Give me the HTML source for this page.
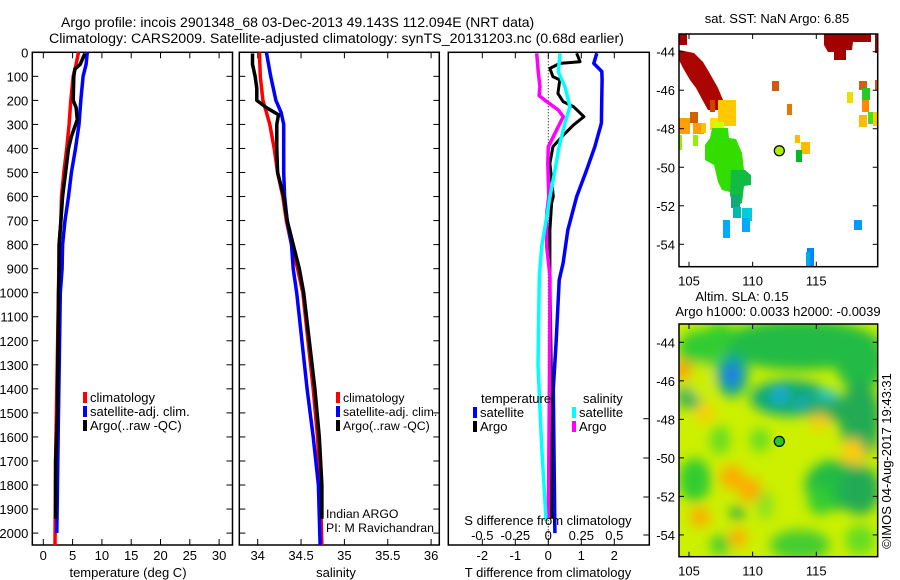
<!DOCTYPE html>
<html><head><meta charset="utf-8">
<style>
html,body{margin:0;padding:0;background:#fff;}
svg{display:block;font-family:"Liberation Sans",sans-serif;}
text{fill:#000;font-size:13px;}
</style></head>
<body>
<svg id="fig" width="900" height="580" viewBox="0 0 900 580" xmlns="http://www.w3.org/2000/svg">
<defs>
<clipPath id="clipSla"><rect x="679" y="324" width="199" height="233"/></clipPath>
<filter id="blur" x="-20%" y="-20%" width="140%" height="140%"><feGaussianBlur stdDeviation="6"/></filter>
</defs>
<text x="61" y="27" style="font-size:14px">Argo profile: incois 2901348_68 03-Dec-2013 49.143S 112.094E (NRT data)</text>
<text x="49" y="43" style="font-size:14.2px">Climatology: CARS2009. Satellite-adjusted climatology: synTS_20131203.nc (0.68d earlier)</text>
<g id="g1"></g>
<g id="g2"></g>
<g id="g3"></g>
<g id="m1"></g>
<g id="m2"></g>
<text transform="translate(891,461) rotate(-90)" text-anchor="middle">©IMOS 04-Aug-2017 19:43:31</text>
</svg>
<script>
// ---- data ----
const tempDepth = [0,50,100,200,300,400,500,600,700,800,1000,1400,1700,2050];
const tempClim  = [6.0,5.6,5.1,4.7,4.4,4.0,3.5,3.1,3.0,2.7,2.6,2.3,2.1,2.0];
const tempSatDepth = [0,50,100,200,300,400,500,600,700,800,900,1000,1500,2000];
const tempSat   = [7.5,7.3,6.8,6.4,6.1,5.5,4.8,4.3,3.7,3.3,3.2,2.9,2.6,2.3];
const argoDepth = [5,50,70,100,200,230,280,350,400,500,600,700,800,900,1000,1500,1700,1940];
const tempArgo  = [7.1,6.3,5.4,5.2,5.1,5.6,5.8,4.8,4.3,3.8,3.3,3.0,2.7,2.7,2.6,2.4,2.1,2.1];
const salDepth  = [0,100,200,250,300,400,500,600,700,800,900,1000,1400,1600,1800,2050];
const salClim   = [34.02,34.03,34.06,34.10,34.14,34.19,34.23,34.29,34.33,34.39,34.46,34.52,34.64,34.69,34.72,34.74];
const salSat    = [34.10,34.15,34.21,34.27,34.30,34.30,34.30,34.31,34.34,34.39,34.41,34.45,34.57,34.64,34.70,34.72];
const salArgoDepth = [5,50,100,150,200,230,260,300,400,500,600,700,800,900,1000,1400,1600,1800,1940];
const salArgo   = [33.94,33.94,33.97,33.99,33.99,34.10,34.24,34.22,34.22,34.23,34.30,34.34,34.41,34.48,34.53,34.66,34.71,34.74,34.74];
const dTSatDepth = [4,46,80,115,185,295,393,490,600,740,877,947,1200,1400,2000];
const dTSat     = [1.47,1.38,1.62,1.63,1.62,1.61,1.41,1.16,0.86,0.59,0.45,0.33,0.24,0.15,0.2];
const dTArgoDepth = [4,39,46,67,101,115,171,205,226,268,303,351,393,462,600,628,740,947,1400,1940];
const dTArgo    = [0.86,0.96,0.35,0.05,0.14,0.35,0.29,0.45,0.76,1.08,0.76,0.41,0.14,0.05,0.15,0.1,0.05,0.05,0.1,0.1];
const dSArgoDepth = [4,88,143,180,205,240,268,323,393,462,600,670,808,933,1400,1940];
const dSArgo    = [-0.088,-0.075,-0.063,-0.07,-0.012,0.076,0.114,0.063,0,-0.004,0.004,-0.012,-0.012,0.013,0.008,0.0];
const dSSatDepth = [4,81,143,226,295,393,490,600,684,808,933,1300,1640,1950];
const dSSat     = [0.089,0.076,0.126,0.164,0.126,0.081,0.051,0.013,-0.012,-0.05,-0.068,-0.078,-0.05,-0.017];
const depthTicks = [0,100,200,300,400,500,600,700,800,900,1000,1100,1200,1300,1400,1500,1600,1700,1800,1900,2000];
const tTicks = [0,5,10,15,20,25,30];
const sTicks = [34,34.5,35,35.5,36];
const sTickLabels = ["34","34.5","35","35.5","36"];
const dTTicks = [-2,-1,0,1,2];
const dSTicks = [-0.5,-0.25,0,0.25,0.5];
const dSTickLabels = ["-0.5","-0.25","0","0.25","0.5"];
const lonTicks = [105,110,115];
const latTicks = [-44,-46,-48,-50,-52,-54];
const argoLon = 112.094, argoLat = -49.143;

// ---- scales ----
const TOP=52.3, BOT=545;
const yD = d => TOP + d*0.2404;
const xT = t => 43.3 + t*5.86;
const xS = s => 257.7 + (s-34)*86.7;
const xDT = v => 548.3 + v*33;
const xDS = v => 548.3 + v*132;
const xLon = l => 689 + (l-105)*12.73;
const yLat1 = l => 51.7 + (-44-l)*19.26;
const yLat2 = l => 342.3 + (-44-l)*19.26;
const NS='http://www.w3.org/2000/svg';
function mk(p,tag,attrs,txt){const e=document.createElementNS(NS,tag);for(const k in attrs)e.setAttribute(k,attrs[k]);if(txt!==undefined)e.textContent=txt;p.appendChild(e);return e;}
function frame(g,x0,x1,y0,y1){
  const r=mk(g,'rect',{x:x0,y:y0,width:x1-x0,height:y1-y0,fill:'none',stroke:'#000','stroke-width':1.5});
  
  
}
function line(g,depths,vals,xf,color,name,w){
  const pts=depths.map((d,i)=>xf(vals[i]).toFixed(1)+','+yD(d).toFixed(1)).join(' ');
  const p=mk(g,'polyline',{points:pts,fill:'none',stroke:color,'stroke-width':w||3.5,'stroke-linejoin':'round'});
  
  
}
function depthTicksOn(g,x0,x1,labels){
  depthTicks.forEach(d=>{
    const y=yD(d);
    mk(g,'line',{x1:x0,x2:x0+6,y1:y,y2:y,stroke:'#000'});
    mk(g,'line',{x1:x1-6,x2:x1,y1:y,y2:y,stroke:'#000'});
    if(labels){const t=mk(g,'text',{x:x0-4,y:y+5,'text-anchor':'end'},String(d));
      
      }
  });
}
function xTicks(g,vals,labels,xf,y,ly){
  vals.forEach((v,i)=>{const x=xf(v);
    mk(g,'line',{x1:x,x2:x,y1:TOP,y2:TOP+6,stroke:'#000'});
    mk(g,'line',{x1:x,x2:x,y1:BOT-6,y2:BOT,stroke:'#000'});
    const t=mk(g,'text',{x:x,y:ly,'text-anchor':'middle'},labels[i]);
    
    
  });
}
function legend(g,x,y,color,label,fs){
  mk(g,'rect',{x:x,y:y-10,width:4,height:11,fill:color});
  const t=mk(g,'text',{x:x+7,y:y,style:'font-size:'+(fs||13)+'px'},label);
  
  
}
// panel 1
const g1=document.getElementById('g1');
frame(g1,32.3,232.5,TOP,BOT);
depthTicksOn(g1,32.3,232.5,true);
xTicks(g1,tTicks,tTicks.map(String),xT,0,560);
line(g1,tempDepth,tempClim,xT,'#ff0000','temp-climatology-line');
line(g1,tempSatDepth,tempSat,xT,'#0000ff','temp-satellite-line');
line(g1,argoDepth,tempArgo,xT,'#000','temp-argo-line');
legend(g1,83,402,'#ff0000','climatology');
legend(g1,83,416,'#0000ff','satellite-adj. clim.');
legend(g1,83,430,'#000','Argo(..raw -QC)');
mk(g1,'text',{x:128,y:577,'text-anchor':'middle'},'temperature (deg C)');
// panel 2
const g2=document.getElementById('g2');
frame(g2,239.3,439.3,TOP,BOT);
depthTicksOn(g2,239.3,439.3,false);
xTicks(g2,sTicks,sTickLabels,xS,0,560);
line(g2,salDepth,salClim,xS,'#ff0000','sal-climatology-line');
line(g2,salDepth,salSat,xS,'#0000ff','sal-satellite-line');
line(g2,salArgoDepth,salArgo,xS,'#000','sal-argo-line');
legend(g2,336,402,'#ff0000','climatology',12.3);
legend(g2,336,416,'#0000ff','satellite-adj. clim.',12.3);
legend(g2,336,430,'#000','Argo(..raw -QC)',12.3);
mk(g2,'text',{x:326,y:518,style:'font-size:12.3px'},'Indian ARGO');
mk(g2,'text',{x:326,y:532,style:'font-size:12.3px'},'PI: M Ravichandran');
mk(g2,'text',{x:336,y:577,'text-anchor':'middle'},'salinity');
// panel 3
const g3=document.getElementById('g3');
frame(g3,448.3,649.3,TOP,BOT);
mk(g3,'line',{x1:548.3,x2:548.3,y1:TOP,y2:BOT,stroke:'#000','stroke-dasharray':'1,2'});
[418.7,458,497,535].forEach(y=>mk(g3,'line',{x1:643.3,x2:649.3,y1:y,y2:y,stroke:'#000'}));
xTicks(g3,dTTicks,dTTicks.map(String),xDT,0,560);
line(g3,dTSatDepth,dTSat,xDT,'#0000ff','dtemp-satellite-line');
line(g3,dTArgoDepth,dTArgo,xDT,'#000','dtemp-argo-line',3);
line(g3,dSArgoDepth,dSArgo,xDS,'#ff00ff','dsal-argo-line');
line(g3,dSSatDepth,dSSat,xDS,'#00ffff','dsal-satellite-line');
dSTicks.forEach((v,i)=>{const t=mk(g3,'text',{x:xDS(v),y:540,'text-anchor':'middle'},dSTickLabels[i]);
  
  });
mk(g3,'text',{x:548,y:525,'text-anchor':'middle'},'S difference from climatology');
mk(g3,'text',{x:548,y:577,'text-anchor':'middle'},'T difference from climatology');
mk(g3,'text',{x:481,y:403},'temperature');
mk(g3,'text',{x:583,y:403},'salinity');
legend(g3,473,417,'#0000ff','satellite');
legend(g3,473,431,'#000','Argo');
legend(g3,572,417,'#00ffff','satellite');
legend(g3,572,431,'#ff00ff','Argo');
// maps
function mapAxes(g,y0,y1,yLat){
  frame(g,679,877.7,y0,y1);
  lonTicks.forEach(l=>{const x=xLon(l);
    mk(g,'line',{x1:x,x2:x,y1:y0,y2:y0+5,stroke:'#000'});
    mk(g,'line',{x1:x,x2:x,y1:y1-5,y2:y1,stroke:'#000'});
    const t=mk(g,'text',{x:x,y:y1+19,'text-anchor':'middle'},String(l));
    
    });
  latTicks.forEach(l=>{const y=yLat(l);
    mk(g,'line',{x1:679,x2:684,y1:y,y2:y,stroke:'#000'});
    mk(g,'line',{x1:872.7,x2:877.7,y1:y,y2:y,stroke:'#000'});
    const t=mk(g,'text',{x:675,y:y+5,'text-anchor':'end'},String(l));
    
    });
}
const m1=document.getElementById('m1');
mk(m1,'text',{x:777,y:23,'text-anchor':'middle'},'sat. SST: NaN Argo: 6.85');
const sst=[
 ['polygon','679,34 687,34 687,45 679,45','#a50000'],
 ['polygon','679,50 694,53 703,62 709,72 718,88 723,100 720,110 708,110 703,101 696,88 690,80 683,68 679,60','#aa0500'],
 ['polygon','824,34 871,34 871,42 853,42 852,50 846,50 846,60 834,60 834,52 828,52 824,45','#a50000'],
 ['rect','875,34,3,19','#a50000'],
 ['rect','772,81,7,10','#d05a10'],['rect','787,104,5,11','#e07a00'],
 ['rect','795,135,5,8','#ffbb00'],['rect','801,142,9,12','#ffbb00'],['rect','796,150,6,12','#00bb22'],
 ['rect','679,118,11,16','#ffa000'],['rect','690,112,8,11','#d06000'],['rect','693,123,11,11','#ffa000'],['rect','679,135,3,15','#99ee00'],['rect','693,135,5,11','#99ee00'],['rect','701,123,5,10','#ffc000'],
 ['rect','710,100,5,12','#cc4400'],['rect','718,100,18,26','#ffc800'],['rect','710,118,8,12','#ffdd00'],['rect','714,122,10,10','#ccff00'],
 ['polygon','712,128 728,128 729,138 736,139 742,153 744,170 742,178 738,188 730,192 722,190 718,182 714,165 705,160 705,145 710,138','#33dd00'],
 ['polygon','731,170 745,170 751,175 751,185 744,186 742,203 734,207 730,195','#11bb44'],
 ['rect','731,195,9,13','#11aa77'],
 ['rect','733,207,8,11','#00bbaa'],
 ['rect','723,220,7,10','#00aaff'],['rect','723,228,7,10','#00aaff'],['rect','742,208,10,13','#00ccdd'],['rect','742,218,8,14','#00aaff'],
 ['rect','807,248,7,18','#0088ff'],['rect','806,252,4,14','#00aaee'],['rect','854,220,8,10','#0099ff'],
 ['rect','859,81,8,9','#d06010'],['rect','847,92,6,11','#eedd00'],['rect','862,88,8,12','#22cc22'],['rect','862,100,7,12','#ff8800'],
 ['rect','875,80,3,10','#d06010'],['rect','859,115,8,12','#ffbb00'],['rect','868,112,6,12','#44dd22'],['rect','873,112,5,14','#ffcc00']
];
sst.forEach(s=>{
  let e;
  if(s[0]==='rect'){const v=s[1].split(',');e=mk(m1,'rect',{x:v[0],y:v[1],width:v[2],height:v[3],fill:s[2]});}
  else e=mk(m1,'polygon',{points:s[1],fill:s[2]});
  
  
});
mapAxes(m1,34,266.7,yLat1);
const c1=mk(m1,'circle',{cx:xLon(argoLon),cy:yLat1(argoLat),r:5,fill:'#aaee00',stroke:'#000','stroke-width':1.2});



const m2=document.getElementById('m2');
mk(m2,'text',{x:742,y:301,'text-anchor':'middle'},'Altim. SLA: 0.15');
mk(m2,'text',{x:778,y:316,'text-anchor':'middle'},'Argo h1000: 0.0033 h2000: -0.0039');
const cg=mk(m2,'g',{'clip-path':'url(#clipSla)'});
mk(cg,'rect',{x:679,y:324,width:199,height:233,fill:'#ccf000'});
const bg=mk(cg,'g',{filter:'url(#blur)'});
const blobs=[
 [800,345,80,25,'#22bb44'],[700,350,22,20,'#33cc33'],[720,335,15,12,'#33cc33'],[860,360,25,30,'#22bb44'],[860,420,20,40,'#22aa55'],
 [732,375,16,22,'#11aa88'],[732,375,8,12,'#2277ee'],
 [790,398,40,18,'#11aa77'],[780,395,8,7,'#22aaee'],[806,407,9,8,'#22aaee'],[828,396,10,7,'#33ccdd'],[840,410,40,12,'#22aa55'],
 [690,397,12,12,'#22aa66'],[700,380,12,18,'#ccee00'],
 [683,370,8,10,'#ff9900'],[705,413,9,10,'#ffcc00'],[732,477,12,12,'#ffaa00'],[750,490,12,12,'#ffaa00'],[700,517,10,10,'#ffaa00'],
 [738,538,9,9,'#ffaa00'],[853,453,12,14,'#ffcc00'],[820,422,10,8,'#ffcc00'],
 [835,485,30,25,'#22bb44'],[860,490,20,25,'#22aa55'],[820,500,12,15,'#33cc33'],
 [695,480,16,22,'#33cc33'],[737,513,7,7,'#22aa44'],[760,440,10,12,'#66dd22'],[720,440,10,15,'#66dd22'],
 [800,545,30,15,'#44cc33'],[860,540,15,15,'#66dd22'],[720,545,10,10,'#44cc33'],[765,505,8,15,'#88e022']
];
blobs.forEach(b=>{const e=mk(bg,'ellipse',{cx:b[0],cy:b[1],rx:b[2],ry:b[3],fill:b[4]});
  
  });
mapAxes(m2,324,556.7,yLat2);
const c2=mk(m2,'circle',{cx:xLon(argoLon),cy:yLat2(argoLat),r:5,fill:'#22cc22',stroke:'#000','stroke-width':1.2});


</script>
</body></html>
